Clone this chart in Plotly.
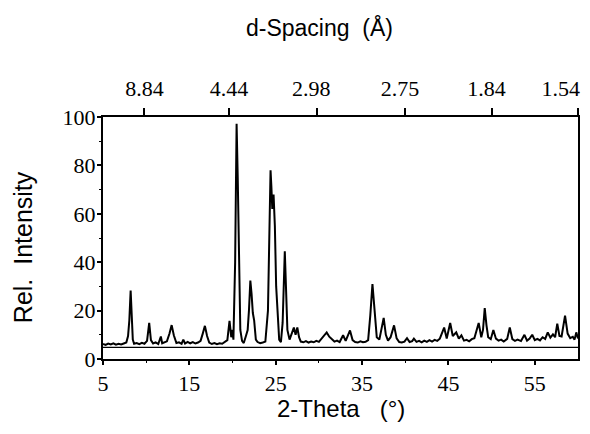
import plotly.graph_objects as go

# ---- data ----
two_theta = [
    5.0, 5.3, 5.6, 5.9, 6.2, 6.5, 6.8, 7.1, 7.4, 7.7, 7.9, 8.05, 8.2, 8.3, 8.45, 8.6,
    8.9, 9.2, 9.5, 9.8, 10.1, 10.35, 10.55, 10.8, 11.1, 11.4, 11.7, 11.85, 12.1, 12.4,
    12.7, 12.95, 13.2, 13.5, 13.8, 14.1, 14.3, 14.5, 14.8, 15.1, 15.4, 15.7, 16.0, 16.3,
    16.55, 16.8, 17.05, 17.3, 17.6, 17.9, 18.2, 18.5, 18.8, 19.1, 19.4, 19.65, 19.85,
    20.0, 20.1, 20.3, 20.47, 20.6, 20.75, 20.9, 21.1, 21.3, 21.55, 21.75, 21.9, 22.06,
    22.2, 22.35, 22.5, 22.7, 22.9, 23.2, 23.5, 23.8, 24.1, 24.3, 24.4, 24.5, 24.6, 24.75,
    24.9, 25.05, 25.2, 25.4, 25.6, 25.8, 26.05, 26.2, 26.35, 26.6, 26.9, 27.1, 27.3, 27.5,
    27.7, 27.9, 28.2, 28.5, 28.8, 29.1, 29.4, 29.7, 30.0, 30.3, 30.6, 30.9, 31.2, 31.5,
    31.8, 32.1, 32.4, 32.8, 33.1, 33.6, 33.9, 34.2, 34.5, 34.8, 35.1, 35.4, 35.7, 35.95,
    36.2, 36.45, 36.7, 37.0, 37.25, 37.5, 37.75, 38.0, 38.3, 38.7, 39.0, 39.3, 39.6, 39.9,
    40.2, 40.5, 40.8, 41.0, 41.3, 41.6, 41.9, 42.2, 42.5, 42.8, 43.1, 43.4, 43.7, 44.0,
    44.5, 44.8, 45.2, 45.5, 45.9, 46.2, 46.5, 46.8, 47.1, 47.4, 47.7, 48.0, 48.5, 48.8,
    49.0, 49.2, 49.4, 49.6, 49.9, 50.2, 50.5, 50.8, 51.1, 51.4, 51.8, 52.1, 52.4, 52.7,
    53.0, 53.4, 53.8, 54.1, 54.4, 54.7, 55.0, 55.3, 55.6, 55.9, 56.2, 56.5, 56.8, 57.1,
    57.35, 57.6, 57.85, 58.1, 58.5, 58.8, 59.1, 59.4, 59.6, 59.8, 60.0,
]
rel_intensity = [
    6.2, 5.8, 6.4, 6.0, 6.5, 5.9, 6.3, 6.0, 6.4, 6.8, 9.5, 16, 28.3, 18, 8, 6.3,
    6.6, 6.1, 6.7, 6.3, 7.5, 14.9, 7.8, 6.4, 6.9, 6.2, 9.3, 6.5, 6.8, 7.3,
    10.5, 14, 9.8, 6.6, 6.9, 6.3, 8.0, 6.4, 7.1, 6.5, 7.0, 6.4, 6.8, 7.5,
    10.5, 13.7, 9.5, 6.8, 6.2, 6.6, 6.1, 6.5, 6.3, 6.9, 7.8, 15.8, 9,
    12, 8, 40, 97.2, 75, 40, 12, 7.5, 6.6, 9.5, 12, 20, 32.4,
    27, 19, 16, 8, 7.0, 6.5, 6.8, 7.2, 20, 60, 78, 71, 62, 68,
    55, 30, 22, 8, 7, 15, 44.5, 30, 12, 8, 11, 13, 10, 13,
    9, 7.2, 6.9, 7.4, 6.8, 7.2, 6.9, 7.5, 7.1, 8.5, 9.5, 11.0, 9.2, 8.0,
    7.2, 7.6, 7.0, 9.8, 7.5, 11.8, 7.8, 7.0, 6.8, 7.3, 6.9, 7.1, 7.8, 18,
    31, 20, 9, 8, 12, 17, 10, 7.6, 9, 13.9, 8.5, 7.0, 6.8, 7.2,
    8.6, 7.0, 7.4, 8.4, 7.1, 7.5, 6.9, 7.6, 7.1, 7.8, 7.2, 7.9, 7.5, 8.4,
    13, 8.5, 14.9, 9.5, 11, 8.4, 9.8, 7.6, 7.9, 7.3, 8.2, 8.6, 14.9, 9.0,
    12, 21, 14, 9, 8.2, 12, 8.4, 7.6, 8.0, 7.2, 8.3, 13, 8.2, 7.5,
    8.0, 7.4, 10, 7.6, 8.4, 10, 7.8, 8.3, 7.7, 9.0, 8.3, 11, 8.8, 10.2,
    9, 14.6, 9.5, 9.3, 17.9, 10.5, 8.6, 9.2, 8.0, 11, 8.5,
]
baseline_level = 4.8

bottom_tickvals = [5, 15, 25, 35, 45, 55]
top_tickvals = [9.8, 19.6, 29.8, 40, 50, 60]
top_label_pos = [9.8, 19.6, 29.1, 39.4, 49.4, 58.0]
top_ticktext = ["8.84", "4.44", "2.98", "2.75", "1.84", "1.54"]
y_tickvals = [0, 20, 40, 60, 80, 100]

serif = "Times New Roman, Liberation Serif, Tinos, serif"
sans = "Liberation Sans, Arial, sans-serif"

fig = go.Figure()
fig.add_trace(go.Scatter(x=two_theta, y=rel_intensity, mode="lines",
                         line=dict(color="black", width=2), showlegend=False))
fig.add_trace(go.Scatter(x=[5, 60], y=[baseline_level, baseline_level], mode="lines",
                         line=dict(color="black", width=1.3), showlegend=False))
# invisible traces to activate the top axes
for ax in ("x2", "x3"):
    fig.add_trace(go.Scatter(x=[5, 60], y=[0, 0], xaxis=ax, mode="lines",
                             line=dict(color="rgba(0,0,0,0)"), showlegend=False,
                             hoverinfo="skip"))

fig.update_layout(
    width=590, height=434,
    # page body has an 8px margin, so the plot is shifted by 8px; compensate
    margin=dict(l=95, r=20, t=109, b=83),
    paper_bgcolor="white", plot_bgcolor="white",
    xaxis=dict(range=[5, 60], tickvals=bottom_tickvals, ticks="outside", ticklen=4,
               tickwidth=1.5, tickcolor="black", showline=True, linecolor="black",
               linewidth=2, mirror=False, showgrid=False, zeroline=False,
               tickfont=dict(family=serif, size=22, color="black"),
               ticklabelstandoff=0,
               minor=dict(tickvals=[10, 20, 30, 40, 50], ticks="outside", ticklen=2,
                          tickcolor="black", tickwidth=1.2)),
    xaxis2=dict(range=[5, 60], overlaying="x", side="top", tickvals=top_tickvals,
                showticklabels=False, ticks="outside", ticklen=7, tickwidth=1.5,
                tickcolor="black", showline=True, linecolor="black", linewidth=1.6,
                showgrid=False, zeroline=False),
    xaxis3=dict(range=[5, 60], overlaying="x", side="top", tickvals=top_label_pos,
                ticktext=top_ticktext, ticks="outside", ticklen=7, tickcolor="rgba(0,0,0,0)",
                showline=False, showgrid=False, zeroline=False,
                tickfont=dict(family=serif, size=22, color="black"),
                ticklabelstandoff=4),
    yaxis=dict(range=[0, 100], tickvals=y_tickvals, ticks="outside", ticklen=4,
               tickwidth=1.5, tickcolor="black", showline=True, linecolor="black",
               linewidth=2, mirror=True, showgrid=False, zeroline=False,
               tickfont=dict(family=serif, size=22, color="black"),
               ticklabelstandoff=-3,
               minor=dict(tickvals=[10, 30, 50, 70, 90], ticks="outside", ticklen=2,
                          tickcolor="black", tickwidth=1.2)),
    annotations=[
        dict(text="d-Spacing  (Å)", xref="paper", yref="paper", x=0.455, y=1.368,
             xanchor="center", yanchor="middle", showarrow=False,
             font=dict(family=sans, size=23, color="black")),
        dict(text="2-Theta   (°)", xref="paper", yref="paper", x=0.5, y=-0.205,
             xanchor="center", yanchor="middle", showarrow=False,
             font=dict(family=sans, size=24, color="black")),
        dict(text="Rel.  Intensity", xref="paper", yref="paper", x=-0.168, y=0.463,
             xanchor="center", yanchor="middle", showarrow=False, textangle=-90,
             font=dict(family=sans, size=25, color="black")),
    ],
)

fig.write_html("out.html")
